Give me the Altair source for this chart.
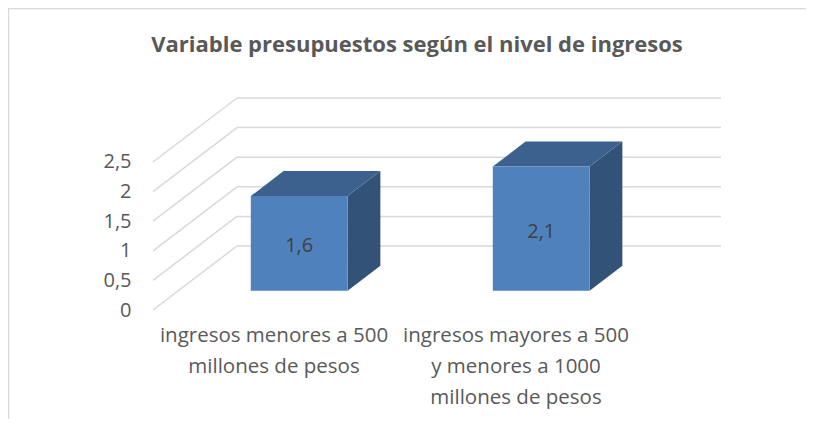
import altair as alt
import pandas as pd

# ---- data ----
TITLE = "Variable presupuestos según el nivel de ingresos"
categories = [
    "ingresos menores a 500 millones de pesos",
    "ingresos mayores a 500 y menores a 1000 millones de pesos",
]
category_lines = [
    ["ingresos menores a 500", "millones de pesos"],
    ["ingresos mayores a 500", "y menores a 1000", "millones de pesos"],
]
values = [1.6, 2.1]
ticks = [0, 0.5, 1, 1.5, 2, 2.5]

# ---- style (pseudo-3D geometry) ----
DX = 0.347      # horizontal depth shift, category units
DY = 1.081      # vertical depth shift, value units
Z0, Z1 = 0.30, 0.69   # bar depth (front / back) as fraction of full depth
BW = 0.40       # bar width as fraction of a category slot
FONT = "Open Sans"
TXT = "#595959"
FRONT, TOP, SIDE = "#4f81bd", "#3c618f", "#325377"
GRID = "#d9d9d9"

W, H = 568, 212
xs = alt.Scale(domain=[0, len(categories) + DX], nice=False, zero=False)
ys = alt.Scale(domain=[0, max(ticks) + DY], nice=False, zero=False)
yaxis = alt.Axis(values=ticks, labelExpr="replace(format(datum.value,'~g'),'.',',')",
                 labelFontSize=20, labelFont=FONT, labelColor=TXT, labelPadding=22,
                 domain=False, ticks=False, grid=False, title=None)

# gridlines
back = pd.DataFrame({"x": DX, "x2": len(categories) + DX,
                     "y": [t + DY for t in ticks]})
diag = pd.DataFrame({"x": 0.0, "x2": DX, "y": ticks, "y2": [t + DY for t in ticks]})

# bars
dzx, dzy = (Z1 - Z0) * DX, (Z1 - Z0) * DY
front_rows, top_rows, side_rows, lab_rows, cat_rows = [], [], [], [], []
for i, (c, v) in enumerate(zip(categories, values)):
    xl = i + 0.5 - BW / 2 + Z0 * DX
    xr = xl + BW
    base = Z0 * DY
    top = v + base
    front_rows.append({"cat": c, "x": xl, "x2": xr, "y": base, "y2": top})
    for (px, a, b) in [(xl, top, top), (xl + dzx, top, top + dzy),
                       (xr, top, top + dzy), (xr + dzx, top + dzy, top + dzy)]:
        top_rows.append({"cat": c, "x": px, "y": a, "y2": b})
    for (px, a, b) in [(xr, base, top), (xr + dzx, base + dzy, top + dzy)]:
        side_rows.append({"cat": c, "x": px, "y": a, "y2": b})
    lab_rows.append({"cat": c, "x": (xl + xr) / 2, "y": base + v / 2,
                     "label": f"{v:.1f}".replace(".", ",")})
    cat_rows.append({"cat": c, "x": i + 0.5, "lines": category_lines[i]})

front = pd.DataFrame(front_rows)
topf = pd.DataFrame(top_rows)
side = pd.DataFrame(side_rows)
labs = pd.DataFrame(lab_rows)
cats = pd.DataFrame(cat_rows)

X = lambda f: alt.X(f, type="quantitative", scale=xs, axis=None)
Y = lambda f: alt.Y(f, type="quantitative", scale=ys, axis=yaxis)

back_l = alt.Chart(back).mark_rule(color=GRID, strokeWidth=1.5).encode(
    x=X("x"), x2="x2", y=Y("y"))
diag_l = alt.Chart(diag).mark_rule(color=GRID, strokeWidth=1.5).encode(
    x=X("x"), x2="x2", y=Y("y"), y2="y2")
side_l = alt.Chart(side).mark_area(color=SIDE, interpolate="linear").encode(
    x=X("x"), y=Y("y"), y2="y2", detail="cat:N")
top_l = alt.Chart(topf).mark_area(color=TOP, interpolate="linear").encode(
    x=X("x"), y=Y("y"), y2="y2", detail="cat:N")
front_l = alt.Chart(front).mark_rect(color=FRONT).encode(
    x=X("x"), x2="x2", y=Y("y"), y2="y2")
lab_l = alt.Chart(labs).mark_text(font=FONT, fontSize=20, color="#404040", dy=3).encode(
    x=X("x"), y=Y("y"), text="label:N")
cat_l = alt.Chart(cats).mark_text(font=FONT, fontSize=20.5, color=TXT, baseline="top",
                                  lineHeight=31).encode(
    x=X("x"), y=alt.value(228), text="lines")
title_l = alt.Chart(pd.DataFrame({"t": [TITLE]})).mark_text(
    font=FONT, fontSize=22, fontWeight="bold", color=TXT).encode(
    x=alt.value(264), y=alt.value(-53), text="t:N")
border_top = alt.Chart(pd.DataFrame({"a": [0]})).mark_rule(color=GRID, strokeWidth=1.5).encode(
    x=alt.value(-145), x2=alt.value(W + 85), y=alt.value(-89.5))
border_left = alt.Chart(pd.DataFrame({"a": [0]})).mark_rule(color=GRID, strokeWidth=1.5).encode(
    x=alt.value(-144.5), y=alt.value(-90), y2=alt.value(H + 109))

chart = alt.layer(back_l, diag_l, side_l, top_l, front_l, lab_l, cat_l, title_l,
                  border_top, border_left).properties(
    width=W, height=H,
    autosize=alt.AutoSizeParams(type="none"),
    padding={"left": 145, "top": 90, "right": 85, "bottom": 109},
).configure_view(stroke=None)

chart.save("out.html", embed_options={"renderer": "svg", "actions": False})
